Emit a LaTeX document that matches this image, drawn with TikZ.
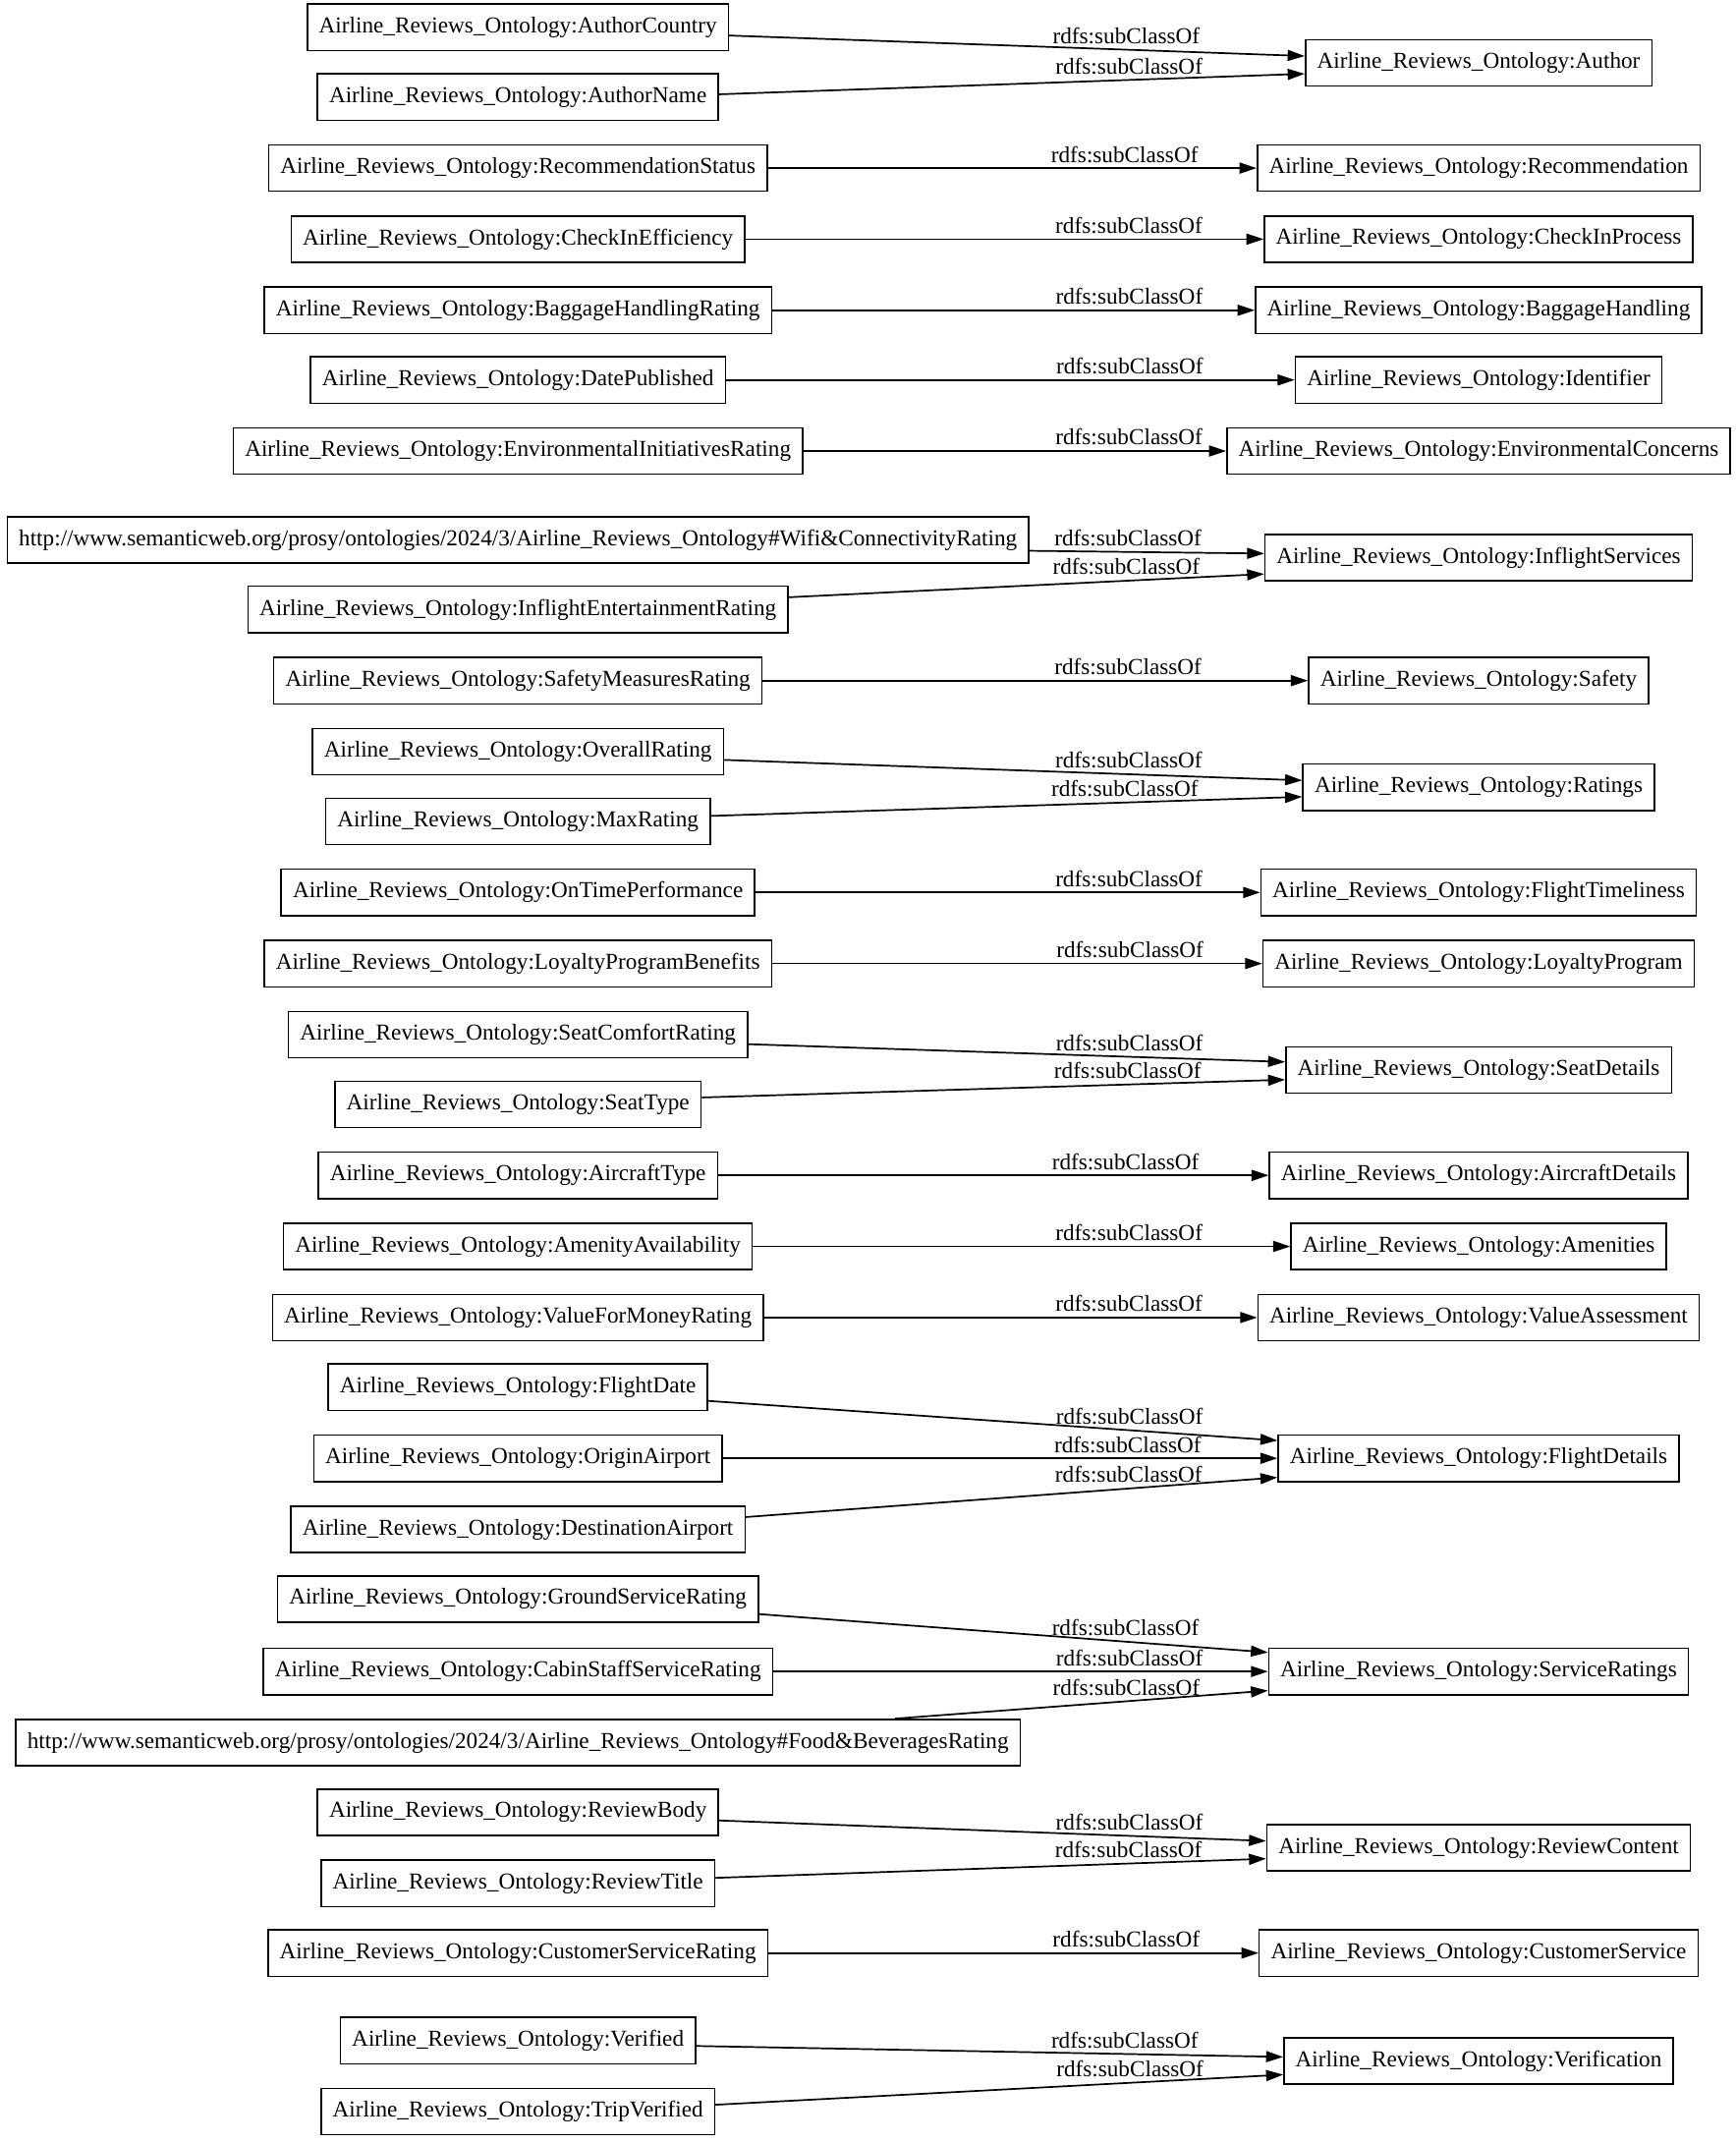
\documentclass[tikz,border=0pt]{standalone}
\usepackage{fontspec}
\setmainfont{Liberation Serif}
\usepackage{tikz}
\usetikzlibrary{arrows.meta,calc}

\begin{document}
\begin{tikzpicture}[x=0.02cm, y=-0.02cm, >={Triangle[length=0.25cm,width=0.16cm]},
  every node/.style={font=\fontsize{9.5pt}{11pt}\selectfont},
  cls/.style={draw, line width=0.6pt, rectangle, inner xsep=0.17cm, minimum height=0.68cm},
  sub/.style={->, line width=0.7pt},
  lbl/.style={above, inner sep=2pt}]

  \useasboundingbox (0,0) rectangle (1270,1568);

  % Subclasses (left column)
  \node (authcountry) [cls] at (379,20) {Airline\_Reviews\_Ontology:AuthorCountry};
  \node (authname) [cls] at (379,71) {Airline\_Reviews\_Ontology:AuthorName};
  \node (recstatus) [cls] at (379,123) {Airline\_Reviews\_Ontology:RecommendationStatus};
  \node (checkineff) [cls] at (379,175) {Airline\_Reviews\_Ontology:CheckInEfficiency};
  \node (baggagerating) [cls] at (379,227) {Airline\_Reviews\_Ontology:BaggageHandlingRating};
  \node (datepub) [cls] at (379,278) {Airline\_Reviews\_Ontology:DatePublished};
  \node (envrating) [cls] at (379,330) {Airline\_Reviews\_Ontology:EnvironmentalInitiativesRating};
  \node (wifi) [cls] at (379,395) {http://www.semanticweb.org/prosy/ontologies/2024/3/Airline\_Reviews\_Ontology\#Wifi\&ConnectivityRating};
  \node (entrating) [cls] at (379,446) {Airline\_Reviews\_Ontology:InflightEntertainmentRating};
  \node (safetyrating) [cls] at (379,498) {Airline\_Reviews\_Ontology:SafetyMeasuresRating};
  \node (overall) [cls] at (379,550) {Airline\_Reviews\_Ontology:OverallRating};
  \node (maxrating) [cls] at (379,601) {Airline\_Reviews\_Ontology:MaxRating};
  \node (ontime) [cls] at (379,653) {Airline\_Reviews\_Ontology:OnTimePerformance};
  \node (loyaltyben) [cls] at (379,705) {Airline\_Reviews\_Ontology:LoyaltyProgramBenefits};
  \node (seatcomfort) [cls] at (379,757) {Airline\_Reviews\_Ontology:SeatComfortRating};
  \node (seattype) [cls] at (379,808) {Airline\_Reviews\_Ontology:SeatType};
  \node (aircrafttype) [cls] at (379,860) {Airline\_Reviews\_Ontology:AircraftType};
  \node (amenityavail) [cls] at (379,912) {Airline\_Reviews\_Ontology:AmenityAvailability};
  \node (valuerating) [cls] at (379,964) {Airline\_Reviews\_Ontology:ValueForMoneyRating};
  \node (flightdate) [cls] at (379,1015) {Airline\_Reviews\_Ontology:FlightDate};
  \node (origin) [cls] at (379,1067) {Airline\_Reviews\_Ontology:OriginAirport};
  \node (destination) [cls] at (379,1119) {Airline\_Reviews\_Ontology:DestinationAirport};
  \node (groundrating) [cls] at (379,1170) {Airline\_Reviews\_Ontology:GroundServiceRating};
  \node (cabinrating) [cls] at (379,1223) {Airline\_Reviews\_Ontology:CabinStaffServiceRating};
  \node (food) [cls] at (379,1275) {http://www.semanticweb.org/prosy/ontologies/2024/3/Airline\_Reviews\_Ontology\#Food\&BeveragesRating};
  \node (reviewbody) [cls] at (379,1326) {Airline\_Reviews\_Ontology:ReviewBody};
  \node (reviewtitle) [cls] at (379,1378) {Airline\_Reviews\_Ontology:ReviewTitle};
  \node (custrating) [cls] at (379,1429) {Airline\_Reviews\_Ontology:CustomerServiceRating};
  \node (verified) [cls] at (379,1493) {Airline\_Reviews\_Ontology:Verified};
  \node (tripverified) [cls] at (379,1545) {Airline\_Reviews\_Ontology:TripVerified};

  % Superclasses (right column)
  \node (author) [cls] at (1082,46) {Airline\_Reviews\_Ontology:Author};
  \node (recommendation) [cls] at (1082,123) {Airline\_Reviews\_Ontology:Recommendation};
  \node (checkin) [cls] at (1082,175) {Airline\_Reviews\_Ontology:CheckInProcess};
  \node (baggage) [cls] at (1082,227) {Airline\_Reviews\_Ontology:BaggageHandling};
  \node (identifier) [cls] at (1082,278) {Airline\_Reviews\_Ontology:Identifier};
  \node (environment) [cls] at (1082,330) {Airline\_Reviews\_Ontology:EnvironmentalConcerns};
  \node (inflight) [cls] at (1082,408) {Airline\_Reviews\_Ontology:InflightServices};
  \node (safety) [cls] at (1082,498) {Airline\_Reviews\_Ontology:Safety};
  \node (ratings) [cls] at (1082,576) {Airline\_Reviews\_Ontology:Ratings};
  \node (timeliness) [cls] at (1082,653) {Airline\_Reviews\_Ontology:FlightTimeliness};
  \node (loyalty) [cls] at (1082,705) {Airline\_Reviews\_Ontology:LoyaltyProgram};
  \node (seatdetails) [cls] at (1082,783) {Airline\_Reviews\_Ontology:SeatDetails};
  \node (aircraft) [cls] at (1082,860) {Airline\_Reviews\_Ontology:AircraftDetails};
  \node (amenities) [cls] at (1082,912) {Airline\_Reviews\_Ontology:Amenities};
  \node (value) [cls] at (1082,964) {Airline\_Reviews\_Ontology:ValueAssessment};
  \node (flightdetails) [cls] at (1082,1067) {Airline\_Reviews\_Ontology:FlightDetails};
  \node (service) [cls] at (1082,1223) {Airline\_Reviews\_Ontology:ServiceRatings};
  \node (content) [cls] at (1082,1352) {Airline\_Reviews\_Ontology:ReviewContent};
  \node (customer) [cls] at (1082,1429) {Airline\_Reviews\_Ontology:CustomerService};
  \node (verification) [cls] at (1082,1508) {Airline\_Reviews\_Ontology:Verification};

  % rdfs:subClassOf edges
  \draw[sub] ($(authcountry.east)+(0,6)$) -- node[lbl, pos=0.69] {rdfs:subClassOf} ($(author.west)+(0,-5)$);
  \draw[sub] ($(authname.east)+(0,-2)$) -- node[lbl, pos=0.70] {rdfs:subClassOf} ($(author.west)+(0,8)$);
  \draw[sub] (recstatus) -- node[lbl, pos=0.73] {rdfs:subClassOf} (recommendation);
  \draw[sub] (checkineff) -- node[lbl, pos=0.74] {rdfs:subClassOf} (checkin);
  \draw[sub] (baggagerating) -- node[lbl, pos=0.74] {rdfs:subClassOf} (baggage);
  \draw[sub] (datepub) -- node[lbl, pos=0.71] {rdfs:subClassOf} (identifier);
  \draw[sub] (envrating) -- node[lbl, pos=0.77] {rdfs:subClassOf} (environment);
  \draw[sub] ($(wifi.east)+(0,8)$) -- node[lbl, pos=0.42] {rdfs:subClassOf} ($(inflight.west)+(0,-3)$);
  \draw[sub] ($(entrating.east)+(0,-9)$) -- node[lbl, pos=0.71] {rdfs:subClassOf} ($(inflight.west)+(0,12)$);
  \draw[sub] (safetyrating) -- node[lbl, pos=0.67] {rdfs:subClassOf} (safety);
  \draw[sub] ($(overall.east)+(0,6)$) -- node[lbl, pos=0.70] {rdfs:subClassOf} ($(ratings.west)+(0,-5)$);
  \draw[sub] ($(maxrating.east)+(0,-4)$) -- node[lbl, pos=0.70] {rdfs:subClassOf} ($(ratings.west)+(0,7)$);
  \draw[sub] (ontime) -- node[lbl, pos=0.74] {rdfs:subClassOf} (timeliness);
  \draw[sub] (loyaltyben) -- node[lbl, pos=0.73] {rdfs:subClassOf} (loyalty);
  \draw[sub] ($(seatcomfort.east)+(0,7)$) -- node[lbl, pos=0.71] {rdfs:subClassOf} ($(seatdetails.west)+(0,-6)$);
  \draw[sub] ($(seattype.east)+(0,-5)$) -- node[lbl, pos=0.73] {rdfs:subClassOf} ($(seatdetails.west)+(0,7)$);
  \draw[sub] (aircrafttype) -- node[lbl, pos=0.74] {rdfs:subClassOf} (aircraft);
  \draw[sub] (amenityavail) -- node[lbl, pos=0.70] {rdfs:subClassOf} (amenities);
  \draw[sub] (valuerating) -- node[lbl, pos=0.74] {rdfs:subClassOf} (value);
  \draw[sub] ($(flightdate.east)+(0,10)$) -- node[lbl, pos=0.74] {rdfs:subClassOf} ($(flightdetails.west)+(0,-13)$);
  \draw[sub] (origin) -- node[lbl, pos=0.73] {rdfs:subClassOf} (flightdetails);
  \draw[sub] ($(destination.east)+(0,-9)$) -- node[lbl, pos=0.72] {rdfs:subClassOf} ($(flightdetails.west)+(0,14)$);
  \draw[sub] ($(groundrating.east)+(0,11)$) -- node[lbl, pos=0.72] {rdfs:subClassOf} ($(service.west)+(0,-14)$);
  \draw[sub] (cabinrating) -- node[lbl, pos=0.72] {rdfs:subClassOf} (service);
  \draw[sub] ($(food.north)+(276,0)$) -- node[lbl, pos=0.62] {rdfs:subClassOf} ($(service.west)+(0,14)$);
  \draw[sub] ($(reviewbody.east)+(0,6)$) -- node[lbl, pos=0.75] {rdfs:subClassOf} ($(content.west)+(0,-5)$);
  \draw[sub] ($(reviewtitle.east)+(0,-4)$) -- node[lbl, pos=0.75] {rdfs:subClassOf} ($(content.west)+(0,8)$);
  \draw[sub] (custrating) -- node[lbl, pos=0.73] {rdfs:subClassOf} (customer);
  \draw[sub] ($(verified.east)+(0,4)$) -- node[lbl, pos=0.73] {rdfs:subClassOf} ($(verification.west)+(0,-3)$);
  \draw[sub] ($(tripverified.east)+(0,-5)$) -- node[lbl, pos=0.73] {rdfs:subClassOf} ($(verification.west)+(0,10)$);

\end{tikzpicture}
\end{document}
